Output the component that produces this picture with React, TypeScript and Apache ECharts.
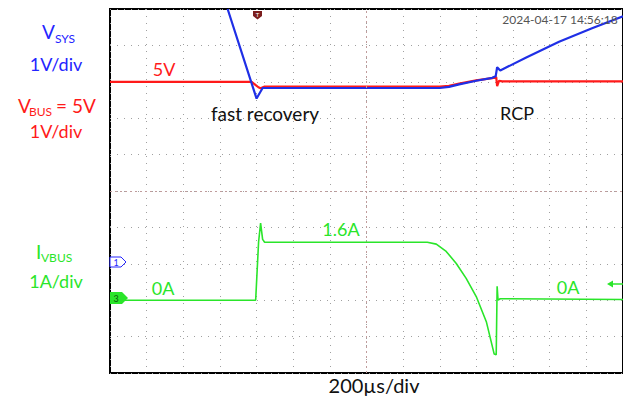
import React, { useEffect, useRef } from "react";
import * as echarts from "echarts";

// time in µs relative to trigger (200 µs/div)
const vsysTime = [-158, 0, 33, 1000, 1050, 1106, 1199, 1286, 1305, 1313, 1330, 1472, 1651, 1831, 2000];
const vsysVolts = [7.0, 4.54, 4.83, 4.83, 4.86, 4.93, 5.03, 5.11, 5.15, 5.4, 5.31, 5.67, 6.1, 6.47, 6.8];

const vbusTime = [-800, -27, 10, 22, 44, 1000, 1050, 1106, 1199, 1286, 1308, 1313, 1324, 1340, 2000];
const vbusVolts = [5.0, 5.0, 4.85, 4.82, 4.87, 4.87, 4.89, 4.95, 5.04, 5.1, 5.13, 4.88, 5.03, 5.01, 5.01];

const ibusTime = [-800, -5, 11, 22, 33, 44, 932, 981, 1035, 1090, 1144, 1199, 1254, 1297, 1308, 1313, 1318, 1330, 2000];
const ibusAmps = [0, 0, 1.6, 2.12, 1.67, 1.59, 1.59, 1.54, 1.34, 1.01, 0.6, 0.1, -0.59, -1.48, -1.5, 0.38, 0.0, 0.04, 0.02];

const timeMin = -800;
const timeMax = 2000;
const timePerDiv = 200;
const voltMin = -3; // channel 1/2 offset: 0 V at -2 div
const voltMax = 7;
const ampMin = -2; // channel 3 offset: 0 A at -3 div
const ampMax = 8;

const zip = (a: number[], b: number[]) => a.map((t, i) => [t, b[i]]);

const FONT = "Lato, 'Open Sans', sans-serif";
const BLUE = "#2424ff";
const RED = "#ff1a1a";
const GREEN = "#2ae52a";

export default function App() {
  const ref = useRef<HTMLDivElement>(null);
  useEffect(() => {
    if (!ref.current) return;
    const chart = echarts.init(ref.current, undefined, { renderer: "svg" });
    const txt = (text: string, x: number, y: number, size: number, fill: string, align = "left") => ({
      type: "text",
      x,
      y,
      z: 100,
      style: { text, fill, font: `${size}px ${FONT}`, textAlign: align, textVerticalAlign: "middle" },
    });
    const gridLine = { show: true, lineStyle: { color: "#a0a0a0", width: 1, type: [1, 6] } };
    chart.setOption({
      animation: false,
      backgroundColor: "#fff",
      grid: {
        left: 110,
        top: 9,
        width: 514,
        height: 364,
        show: true,
        borderColor: "#000",
        borderWidth: 2,
        backgroundColor: "transparent",
      },
      xAxis: {
        type: "value",
        min: timeMin,
        max: timeMax,
        interval: timePerDiv,
        axisLine: { show: false },
        axisTick: { show: false },
        axisLabel: { show: false },
        splitLine: gridLine,
      },
      yAxis: [
        {
          type: "value",
          min: voltMin,
          max: voltMax,
          interval: 1,
          axisLine: { show: false },
          axisTick: { show: false },
          axisLabel: { show: false },
          splitLine: gridLine,
        },
        {
          type: "value",
          min: ampMin,
          max: ampMax,
          interval: 1,
          axisLine: { show: false },
          axisTick: { show: false },
          axisLabel: { show: false },
          splitLine: { show: false },
        },
      ],
      series: [
        {
          type: "line",
          name: "VBUS",
          data: zip(vbusTime, vbusVolts),
          yAxisIndex: 0,
          showSymbol: false,
          lineStyle: { color: RED, width: 2.2 },
          markLine: {
            silent: true,
            symbol: "none",
            label: { show: false },
            lineStyle: { color: "#c09c9c", width: 1, type: [2, 3] },
            data: [{ xAxis: 600 }, { yAxis: 2 }],
          },
          z: 3,
        },
        {
          type: "line",
          name: "VSYS",
          data: zip(vsysTime, vsysVolts),
          yAxisIndex: 0,
          showSymbol: false,
          lineStyle: { color: "#1f2fe6", width: 2.2 },
          z: 4,
        },
        {
          type: "line",
          name: "IVBUS",
          data: zip(ibusTime, ibusAmps),
          yAxisIndex: 1,
          showSymbol: false,
          lineStyle: { color: GREEN, width: 1.6 },
          z: 5,
        },
      ],
      graphic: [
        // left legend labels
        txt("V", 42, 31, 19, BLUE),
        txt("SYS", 55, 38, 12, BLUE),
        txt("1V/div", 56, 64, 18, BLUE, "center"),
        txt("V", 18, 105, 19, RED),
        txt("BUS", 29, 111, 12, RED),
        txt("= 5V", 56, 105, 19, RED),
        txt("1V/div", 56, 131, 18, RED, "center"),
        txt("I", 36, 251, 19, GREEN),
        txt("VBUS", 41, 257, 12, GREEN),
        txt("1A/div", 56, 281, 18, GREEN, "center"),
        // in-plot annotations
        txt("5V", 164, 69, 18, RED, "center"),
        txt("fast recovery", 265, 113, 19, "#111", "center"),
        txt("RCP", 517, 113, 18, "#111", "center"),
        txt("1.6A", 341, 229, 18, GREEN, "center"),
        txt("0A", 163, 288, 18, GREEN, "center"),
        txt("0A", 568, 287, 18, GREEN, "center"),
        txt("200µs/div", 374, 385, 20, "#111", "center"),
        txt("2024-04-17 14:56:18", 560, 19, 12, "#555", "center"),
        // channel 1 marker
        {
          type: "polygon",
          z: 100,
          shape: { points: [[110, 257], [121, 257], [126, 262], [121, 267], [110, 267]] },
          style: { fill: "#fff", stroke: BLUE, lineWidth: 1 },
        },
        txt("1", 116, 262, 9, BLUE, "center"),
        // channel 3 marker
        {
          type: "polygon",
          z: 100,
          shape: { points: [[110, 292], [122, 292], [128, 298], [122, 304], [110, 304]] },
          style: { fill: GREEN },
        },
        txt("3", 116, 298, 9, "#0a5a0a", "center"),
        // trigger marker
        {
          type: "polygon",
          z: 100,
          shape: { points: [[253, 11], [262, 11], [262, 16], [257.5, 19.5], [253, 16]] },
          style: { fill: "#7b1d1d" },
        },
        txt("T", 257.5, 14.5, 6, "#fff", "center"),
        // trigger level arrow at right
        {
          type: "line",
          z: 100,
          shape: { x1: 611, y1: 284, x2: 623, y2: 284 },
          style: { stroke: GREEN, lineWidth: 1.5 },
        },
        {
          type: "polygon",
          z: 100,
          shape: { points: [[607, 284], [613, 280.5], [613, 287.5]] },
          style: { fill: GREEN },
        },
      ],
    });
    return () => chart.dispose();
  }, []);
  return (
    <div
      ref={ref}
      style={{ position: "absolute", left: 0, top: 0, width: 623, height: 396 }}
    />
  );
}
